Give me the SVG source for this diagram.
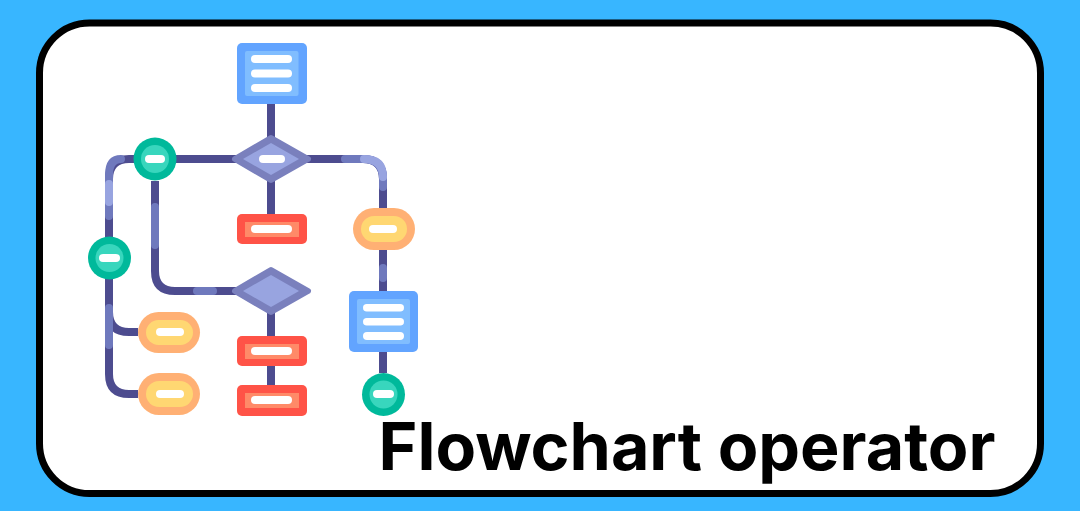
<svg xmlns="http://www.w3.org/2000/svg" width="1080" height="511" viewBox="0 0 1080 511">
<style>
.l{fill:none;stroke:#4d4c8f;stroke-width:8}
.m{fill:none;stroke:#6f79bd;stroke-width:8;stroke-linecap:round}
.h{fill:none;stroke:#98a4e0;stroke-width:8;stroke-linecap:round}
.w{fill:#fff}
.db{fill:#62a4ff}.di{fill:#80bdff}
.rb{fill:#ff5347}.ri{fill:#ff8a68}
.ob{fill:#ffb074}.oi{fill:#ffd772}
.gb{fill:#00b99b}.gi{fill:#38d6bd}
.do{fill:#7a80bd;stroke:#7a80bd;stroke-width:6;stroke-linejoin:round}
.dn{fill:#98a4e0}
</style>
<rect width="1080" height="511" fill="#38b6ff"/>
<rect id="card" x="39.5" y="23" width="1001" height="470.5" rx="50" fill="#fff" stroke="#000" stroke-width="7"/>
<g id="connectors">
<path class="l" d="M271 104V214"/>
<path class="l" d="M271 305V385"/>
<path class="l" d="M300 159H363Q383 159 383 179V291"/>
<path class="l" d="M383 352V373"/>
<path class="l" d="M240 159H129Q109 159 109 179V374Q109 394 129 394H138"/>
<path class="l" d="M109 312Q109 332 129 332H138"/>
<path class="l" d="M155 181V271Q155 291 175 291H240"/>
<path class="m" d="M345 159H363Q383 159 383 179V187"/>
<path class="h" d="M364 159Q383 159 383 177"/>
<path class="m" d="M383 268V278"/>
<path class="m" d="M121 159Q109 159 109 175V216"/>
<path class="h" d="M109 184V202"/>
<path class="m" d="M155 207V245"/>
<path class="m" d="M197 291H213"/>
<path class="m" d="M109 308V345"/>
</g>
<g id="doc-top"><rect class="db" x="237" y="43" width="70" height="61" rx="5"/><rect class="di" x="245" y="51" width="53.500" height="45" rx="2"/><rect class="w" x="251" y="55" width="41" height="8" rx="4"/><rect class="w" x="251" y="69.500" width="41" height="8" rx="4"/><rect class="w" x="251" y="84" width="41" height="8" rx="4"/></g>
<g id="decision-top"><polygon class="do" points="235,159 271,138 308,159 271,180"/><polygon class="dn" points="243,159 271,143 299,159 271,175"/><rect class="w" x="259" y="155" width="26" height="8" rx="4"/></g>
<g id="decision-mid"><polygon class="do" points="235,291 271,270 308,291 271,312"/><polygon class="dn" points="243,291 271,275 299,291 271,307"/></g>
<g id="red-1"><rect class="rb" x="237" y="214" width="70" height="30" rx="5"/><rect class="ri" x="245" y="222" width="54" height="15"/><rect class="w" x="251" y="225" width="41" height="8" rx="4"/></g>
<g id="red-2"><rect class="rb" x="237" y="336" width="70" height="30" rx="5"/><rect class="ri" x="245" y="344" width="54" height="15"/><rect class="w" x="251" y="347" width="41" height="8" rx="4"/></g>
<g id="red-3"><rect class="rb" x="237" y="385" width="70" height="31" rx="5"/><rect class="ri" x="245" y="393" width="54" height="15"/><rect class="w" x="251" y="396" width="41" height="8" rx="4"/></g>
<g id="pill-right"><rect class="ob" x="353" y="208" width="62" height="42" rx="21"/><rect class="oi" x="361" y="216" width="46" height="26" rx="13"/><rect class="w" x="369" y="225" width="28" height="8" rx="4"/></g>
<g id="pill-left-1"><rect class="ob" x="138" y="312" width="62" height="41" rx="20.500"/><rect class="oi" x="146" y="320" width="47" height="25" rx="12.500"/><rect class="w" x="156" y="328" width="28" height="8" rx="4"/></g>
<g id="pill-left-2"><rect class="ob" x="138" y="373" width="62" height="42" rx="21"/><rect class="oi" x="146" y="381" width="47" height="26" rx="13"/><rect class="w" x="156" y="390" width="28" height="8" rx="4"/></g>
<g id="doc-right"><rect class="db" x="349" y="291" width="69" height="61" rx="5"/><rect class="di" x="357" y="299" width="53" height="45" rx="2"/><rect class="w" x="363" y="304" width="41" height="7.500" rx="3.750"/><rect class="w" x="363" y="318" width="41" height="7.500" rx="3.750"/><rect class="w" x="363" y="332" width="41" height="8" rx="4"/></g>
<g id="term-1"><circle class="gb" cx="155" cy="159" r="21.500"/><circle class="gi" cx="155" cy="159" r="14"/><rect class="w" x="145" y="155" width="20" height="8" rx="4"/></g>
<g id="term-2"><circle class="gb" cx="109.500" cy="258" r="21.500"/><circle class="gi" cx="109.500" cy="258" r="14"/><rect class="w" x="99" y="254" width="21" height="8" rx="4"/></g>
<g id="term-3"><circle class="gb" cx="383.500" cy="394.500" r="21.500"/><circle class="gi" cx="383.500" cy="394.500" r="14"/><rect class="w" x="373" y="390" width="21" height="8" rx="4"/></g>
<text id="title" x="378.500" y="470" font-family="Inter, 'Liberation Sans', sans-serif" font-weight="700" font-size="66" textLength="617" lengthAdjust="spacingAndGlyphs" fill="#000">Flowchart operator</text>
</svg>
